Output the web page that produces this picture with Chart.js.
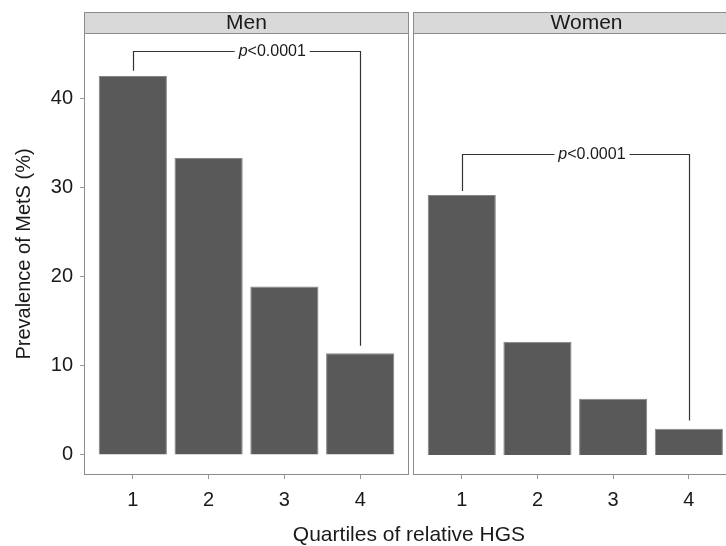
<!DOCTYPE html>
<html>
<head>
<meta charset="utf-8">
<script src="https://cdn.jsdelivr.net/npm/chart.js@4"></script>
<style>
  html, body { margin: 0; padding: 0; background: #fff; }
  #wrap { position: relative; width: 726px; height: 546px; overflow: hidden; }
  #men { position: absolute; left: 0; top: 0; }
  #women { position: absolute; left: 410px; top: 0; }
  #xTitle {
    position: absolute; left: 209px; width: 400px; top: 522px;
    text-align: center; font: 21px "Liberation Sans", Arial, sans-serif; color: #1a1a1a;
  }
</style>
</head>
<body>
<div id="wrap">
  <canvas id="men" width="411" height="546"></canvas>
  <canvas id="women" width="352" height="546"></canvas>
  <div id="xTitle">Quartiles of relative HGS</div>
</div>
<script>
const quartiles = [1, 2, 3, 4];
const menValues = [42.5, 33.3, 18.9, 11.4];
const womenValues = [29.15, 12.7, 6.3, 2.95];
const yTicks = [0, 10, 20, 30, 40];
const panelTitles = ["Men", "Women"];
const pLabel = "<0.0001";
// bracket: [x1, x2, yTop, yLeftEnd, yRightEnd, textX]
const menBracket = [1, 4, 45.3, 43.1, 12.25, 2.84];
const womenBracket = [1, 4, 33.8, 29.6, 3.85, 2.72];

const FONT = '"Liberation Sans", Arial, sans-serif';
const Y_MIN = -2.25;
const Y_MAX = 47.33;

const facetPlugin = {
  id: "facet",
  afterDraw(chart, args, opts) {
    const { ctx, chartArea: a, scales } = chart;
    ctx.save();
    // strip
    ctx.fillStyle = "#d9d9d9";
    ctx.fillRect(a.left, 12, a.right - a.left, a.top - 12);
    ctx.strokeStyle = "#8c8c8c";
    ctx.lineWidth = 1;
    ctx.strokeRect(a.left + 0.5, 12.5, a.right - a.left - 1, a.top - 12);
    ctx.fillStyle = "#1a1a1a";
    ctx.font = "21px " + FONT;
    ctx.textAlign = "center";
    ctx.textBaseline = "middle";
    ctx.fillText(opts.title, (a.left + a.right) / 2, 23.5);
    // panel border
    ctx.strokeRect(a.left + 0.5, a.top + 0.5, a.right - a.left - 1, a.bottom - a.top - 1);

    // significance bracket
    const [x1, x2, yTop, yL, yR, tx] = opts.bracket;
    const px1 = Math.round(scales.x.getPixelForValue(x1)) + 0.5;
    const px2 = Math.round(scales.x.getPixelForValue(x2)) + 0.5;
    const pyTop = Math.round(scales.y.getPixelForValue(yTop)) + 0.5;
    const pyL = scales.y.getPixelForValue(yL);
    const pyR = scales.y.getPixelForValue(yR);
    const ptx = scales.x.getPixelForValue(tx);

    ctx.font = "italic 16px " + FONT;
    const wP = ctx.measureText("p").width;
    ctx.font = "16px " + FONT;
    const wRest = ctx.measureText(pLabel).width;
    const tw = wP + wRest;
    const tStart = ptx - tw / 2;

    ctx.strokeStyle = "#333";
    ctx.lineWidth = 1.2;
    ctx.beginPath();
    ctx.moveTo(px1, pyL);
    ctx.lineTo(px1, pyTop);
    ctx.lineTo(tStart - 4, pyTop);
    ctx.moveTo(tStart + tw + 4, pyTop);
    ctx.lineTo(px2, pyTop);
    ctx.lineTo(px2, pyR);
    ctx.stroke();

    ctx.fillStyle = "#1a1a1a";
    ctx.textAlign = "left";
    ctx.textBaseline = "middle";
    ctx.font = "italic 16px " + FONT;
    ctx.fillText("p", tStart, pyTop);
    ctx.font = "16px " + FONT;
    ctx.fillText(pLabel, tStart + wP, pyTop);
    ctx.restore();
  },
};

function makeChart(canvasId, values, title, bracket, showY, xMax) {
  const ctx = document.getElementById(canvasId).getContext("2d");
  return new Chart(ctx, {
    type: "bar",
    data: {
      datasets: [
        {
          data: quartiles.map((q, i) => ({ x: q, y: values[i] })),
          backgroundColor: "#595959",
          borderColor: "#858585",
          borderWidth: 1,
          barPercentage: 0.9,
          categoryPercentage: 1,
        },
      ],
    },
    options: {
      responsive: false,
      animation: false,
      layout: { padding: { top: 33, right: 2, bottom: 0, left: showY ? 0 : 3 } },
      plugins: {
        legend: { display: false },
        tooltip: { enabled: false },
        facet: { title: title, bracket: bracket },
      },
      scales: {
        x: {
          type: "linear",
          min: 0.356,
          max: xMax,
          offset: false,
          afterFit: (s) => { s.height = 71; },
          afterBuildTicks: (s) => { s.ticks = quartiles.map((v) => ({ value: v })); },
          grid: {
            offset: false,
            drawOnChartArea: false,
            drawTicks: true,
            tickLength: 4,
            color: "#999",
          },
          border: { display: false },
          ticks: {
            padding: 9,
            color: "#1a1a1a",
            font: { family: FONT, size: 20 },
            maxRotation: 0,
            callback: (v) => String(v),
          },
        },
        y: {
          display: showY,
          min: Y_MIN,
          max: Y_MAX,
          afterFit: (s) => { s.width = showY ? 84 : 0; },
          afterBuildTicks: (s) => { s.ticks = yTicks.map((v) => ({ value: v })); },
          grid: {
            drawOnChartArea: false,
            drawTicks: true,
            tickLength: 4,
            color: "#999",
          },
          border: { display: false },
          ticks: {
            padding: 7,
            color: "#1a1a1a",
            font: { family: FONT, size: 20 },
          },
          title: {
            display: true,
            text: "Prevalence of MetS (%)",
            color: "#1a1a1a",
            font: { family: FONT, size: 20 },
            padding: { top: 12, bottom: 0 },
          },
        },
      },
    },
    plugins: [facetPlugin],
  });
}

makeChart("men", menValues, panelTitles[0], menBracket, true, 4.644);
// the women panel runs past the right edge of the picture
makeChart("women", womenValues, panelTitles[1], womenBracket, false, 4.94);
</script>
</body>
</html>
